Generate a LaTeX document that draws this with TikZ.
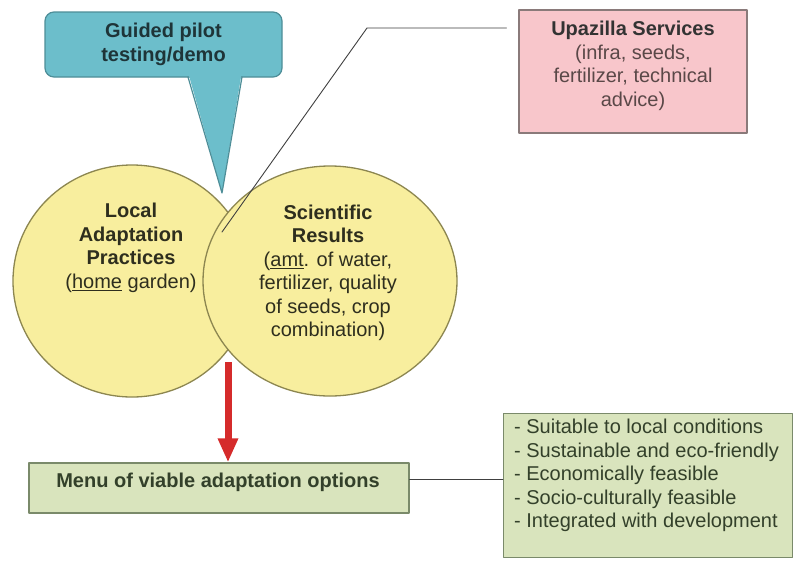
\documentclass[tikz,border=0pt]{standalone}
\usepackage{fontspec}
\setmainfont{Liberation Sans}
\usepackage{tikz}
\usetikzlibrary{arrows.meta}
\usetikzlibrary{shapes.geometric}
\usetikzlibrary{calc}
\definecolor{calloutblue}{HTML}{6CBECB}
\definecolor{calloutedge}{HTML}{4E8E98}
\definecolor{callouttext}{HTML}{1E3438}
\definecolor{vennyellow}{HTML}{F8EE9E}
\definecolor{vennedge}{HTML}{8C8650}
\definecolor{venntext}{HTML}{2E2E1E}
\definecolor{pinkbox}{HTML}{F8C6CB}
\definecolor{pinkedge}{HTML}{8A7A7A}
\definecolor{pinktext}{HTML}{5A4848}
\definecolor{greenbox}{HTML}{D9E4BD}
\definecolor{greenedge}{HTML}{7A8A6A}
\definecolor{greentext}{HTML}{33402A}
\definecolor{arrowred}{HTML}{D52B2B}
\begin{document}
\begin{tikzpicture}[x=1pt,y=-1pt,line cap=round,line join=round,
  txt/.style={font=\fontsize{20}{23.5}\selectfont,align=center,inner sep=0pt},
  venn/.style={ellipse,draw=vennedge,line width=1.3pt,fill=vennyellow,inner sep=0pt},
  rectbox/.style={draw=greenedge,line width=1.3pt,inner sep=0pt,fill=greenbox},
  thinline/.style={draw=black!75,line width=0.9pt}]
\useasboundingbox (0,0) rectangle (794,560);
\fill[white] (0,0) rectangle (794,560);
\coordinate (tip) at (222,193);
\node[draw=calloutedge,fill=calloutblue,line width=1.2pt,rounded corners=9pt,
  minimum width=237,minimum height=65,txt,text=callouttext,font=\fontsize{20}{24}\selectfont\bfseries]
  (pilot) at (163.5,44.5) {Guided pilot\\testing/demo};
\fill[calloutblue] (188.5,74) -- (tip) -- (241.5,74) -- cycle;
\draw[draw=calloutedge,line width=1.2pt] (188,77) -- (tip) -- (242,77);
\node[venn,minimum width=238,minimum height=232] (local) at (132,281) {};
\node[venn,minimum width=254,minimum height=230] (sci) at (330,281) {};
\node[txt,text=venntext] (localtxt) at (131,248)
  {\textbf{Local}\\\textbf{Adaptation}\\\textbf{Practices}\\(\underline{home} garden)};
\node[txt,text=venntext] (scitxt) at (328,273)
  {\textbf{Scientific}\\\textbf{Results}\\(\underline{amt}. of water,\\fertilizer, quality\\of seeds, crop\\combination)};
\node[rectbox,draw=pinkedge,fill=pinkbox,minimum width=228,minimum height=123] (upa) at (633,71.5) {};
\node[txt,text=pinktext] (upatxt) at (633,66)
  {\textbf{\color{black!80}Upazilla Services}\\(infra, seeds,\\fertilizer, technical\\advice)};
\coordinate (upaline) at (222,232);
\draw[thinline] ($(upa.west)+(-12,-43.5)$) -- (367,28) -- (upaline);
\node[rectbox,minimum width=380,minimum height=50] (menu) at (219,488) {};
\node[txt,text=greentext,font=\fontsize{20}{23.5}\selectfont\bfseries] (menutxt) at (218,482)
  {Menu of viable adaptation options};
\node[rectbox,minimum width=289,minimum height=144,anchor=north west] (crit) at (503,413) {};
\node[txt,text=greentext,align=left,anchor=north west] (crittxt) at (514,419)
  {- Suitable to local conditions\\- Sustainable and eco-friendly\\- Economically feasible\\- Socio-culturally feasible\\- Integrated with development};
\draw[thinline] ([yshift=9pt]menu.east) -- ([yshift=9pt]menu.east -| crit.west);
\coordinate (arrowstart) at (228,362);
\draw[arrowred,line width=7pt,line cap=butt,-{Triangle[length=24pt,width=19pt]}]
  (arrowstart) -- (arrowstart |- menu.north);
\end{tikzpicture}
\end{document}
